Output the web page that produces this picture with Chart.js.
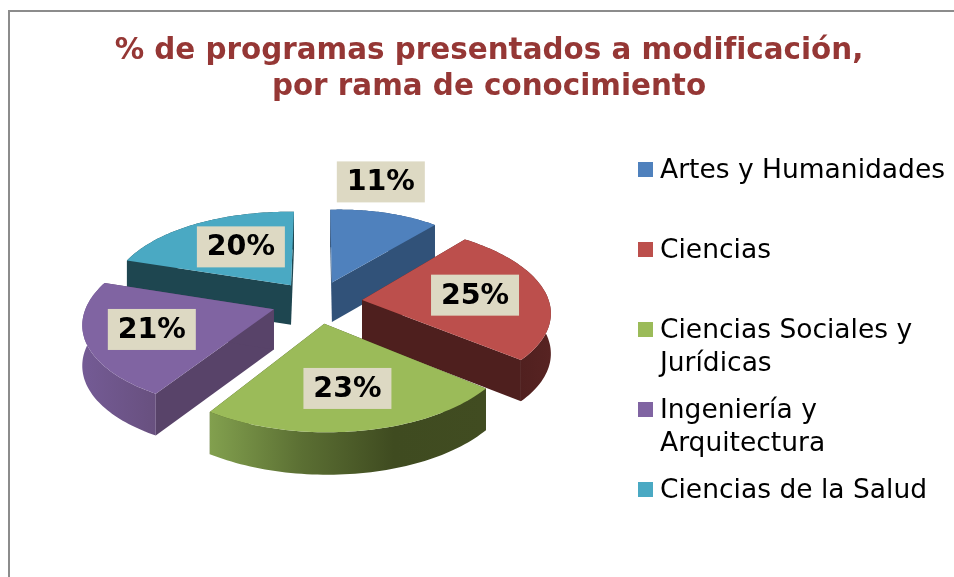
<!DOCTYPE html>
<html><head><meta charset="utf-8">
<style>html,body{margin:0;padding:0;background:#fff}canvas{display:block}</style>
<script src="https://cdn.jsdelivr.net/npm/chart.js@4"></script>
</head><body><canvas id="c" width="954" height="577"></canvas>
<script>
const categories = ["Artes y Humanidades","Ciencias","Ciencias Sociales y Jurídicas","Ingeniería y Arquitectura","Ciencias de la Salud"];
const legendLines = [["Artes y Humanidades"],["Ciencias"],["Ciencias Sociales y","Jurídicas"],["Ingeniería y","Arquitectura"],["Ciencias de la Salud"]];
const values = [11,25,23,21,20];
const titleLines = ["% de programas presentados a modificación,","por rama de conocimiento"];

const topColors = ["#4f81bd","#bc4f4c","#9bbb59","#8064a2","#4aa9c3"];
const wallColors = ["#315279","#4e1f1e","#414c21","#584369","#1e4650"];
const rimStops = [["#315279","#315279"],["#4e1f1e","#4e1f1e","#572322"],["#82a04e","#5b6f33","#3f4b20","#414c21"],["#745b95","#68507f"],["#1e4650","#1e4650"]];
const labelFrac = [1.4,0.6,0.6,0.65,0.5];
const labelNudge = [[-22,-8],[4,0],[3,5],[-3,0],[-1,-6.5]];

// projection of the tilted pie plane
const P = {cx:317, cy:302, rx:185, t:0.13, ky:87, ty:0.13, explode:0.245, depth:40, bulge:0.012};
const project = (u,v)=>[P.cx+P.rx*u/(1-P.t*v), P.cy+P.ky*v/(1-P.ty*v)];

function sliceGeom(arc){
  const a0=arc.startAngle, a1=arc.endAngle, m=(a0+a1)/2;
  const eu=Math.cos(m)*P.explode, ev=Math.sin(m)*P.explode;
  const tip=project(eu,ev);
  const map=(ang,f=1)=>project(eu+f*Math.cos(ang), ev+f*Math.sin(ang));
  const rim=(ang)=>{
    const f=1+P.bulge*Math.sin(Math.PI*(ang-a0)/(a1-a0));
    return map(ang,f);
  };
  const depthAt=(ang)=>P.depth*(1+0.05*(ev+Math.sin(ang)));
  return {a0,a1,m,tip,map,rim,depthAt,ev};
}
function poly(ctx,pts,fill){
  ctx.beginPath();pts.forEach((p,i)=>i?ctx.lineTo(p[0],p[1]):ctx.moveTo(p[0],p[1]));
  ctx.closePath();ctx.fillStyle=fill;ctx.fill();
}
const pie3d = {
  id:'pie3d',
  beforeDraw(chart){
    const ctx=chart.ctx;ctx.save();
    ctx.fillStyle='#fff';ctx.fillRect(0,0,chart.width,chart.height);
    ctx.strokeStyle='#8c8c8c';ctx.lineWidth=2;
    ctx.beginPath();ctx.moveTo(9,577);ctx.lineTo(9,11);ctx.lineTo(954,11);ctx.stroke();
    ctx.restore();
    ctx.letterSpacing='0.001px';
  },
  beforeDatasetDraw(){return false;},
  afterDatasetsDraw(chart){
    const ctx=chart.ctx, arcs=chart.getDatasetMeta(0).data;
    const order=arcs.map((arc,i)=>({arc,i,g:sliceGeom(arc)})).sort((p,q)=>Math.sin(p.g.m)-Math.sin(q.g.m));
    order.forEach(({arc,i,g})=>{
      const down=(p,ang)=>[p[0],p[1]+g.depthAt(ang)];
      const tip=g.tip, tipD=[tip[0],tip[1]+P.depth*(1+0.05*g.ev)];
      [g.a0,g.a1].forEach(ang=>{
        const r=g.rim(ang);
        poly(ctx,[tip,r,down(r,ang),tipD],wallColors[i]);
      });
      const top=[],bot=[];const N=60;
      for(let k=0;k<=N;k++){const ang=g.a0+(g.a1-g.a0)*k/N;const p=g.rim(ang);top.push(p);bot.push(down(p,ang));}
      const xs=top.map(p=>p[0]);const x0=Math.min(...xs),x1=Math.max(...xs);
      const grad=ctx.createLinearGradient(x0,0,x1,0);
      rimStops[i].forEach((col,k,arr)=>grad.addColorStop(k/(arr.length-1),col));
      poly(ctx,top.concat(bot.slice().reverse()),grad);
      poly(ctx,[tip].concat(top),arc.options.backgroundColor);
    });
    ctx.save();
    ctx.textAlign='center';ctx.textBaseline='middle';ctx.font='bold 28.5px "DejaVu Sans"';
    arcs.forEach((arc,i)=>{
      const g=sliceGeom(arc);const p=g.map(g.m,labelFrac[i]);
      const x=p[0]+labelNudge[i][0],y=p[1]+labelNudge[i][1];
      ctx.fillStyle='#ddd9c3';ctx.fillRect(x-44,y-20.5,88,41);
      ctx.fillStyle='#000';ctx.fillText(values[i]+'%',x,y+1);
    });
    ctx.textAlign='left';ctx.font='26.5px "DejaVu Sans"';
    legendLines.forEach((lines,i)=>{
      const y=170+80*i;
      ctx.fillStyle=topColors[i];ctx.fillRect(638,y-8,15,15);
      ctx.fillStyle='#000';
      lines.forEach((t,k)=>ctx.fillText(t,660,y+1+33*k));
    });
    ctx.restore();
  }
};
new Chart(document.getElementById('c'),{
  type:'pie',
  data:{labels:categories,datasets:[{data:values,backgroundColor:topColors,borderWidth:0}]},
  options:{
    responsive:false,animation:false,
    layout:{padding:{left:24}},
    plugins:{
      legend:{display:false},tooltip:{enabled:false},
      title:{display:true,text:titleLines,color:'#953735',
        font:{family:'"DejaVu Sans"',size:29.4,weight:'bold',lineHeight:1.224},
        padding:{top:33,bottom:10}}
    }
  },
  plugins:[pie3d]
});
</script></body></html>
